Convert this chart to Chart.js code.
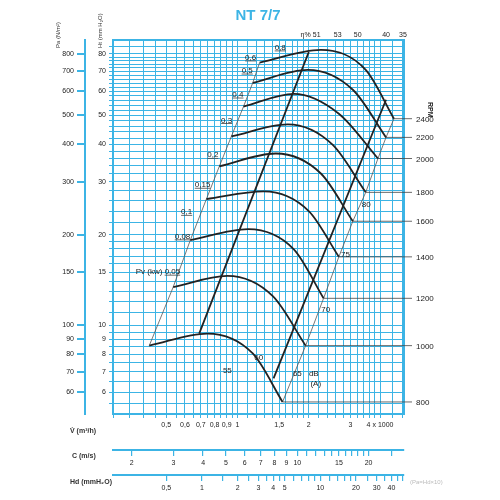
<!DOCTYPE html>
<html><head><meta charset="utf-8">
<script src="https://cdn.jsdelivr.net/npm/chart.js@4.4.0/dist/chart.umd.min.js"></script>
<style>html,body{margin:0;background:#fff}</style>
</head><body><canvas id="c" width="500" height="500"></canvas>
<script>
const BLUE='#3cb4e5';
const rpm=[800,1000,1200,1400,1600,1800,2000,2200,2400];
// curve points [V m3/s, H mmH2O]: start, peak, mid, end
const curves=[
 [[0.424,8.56],[0.745,9.39],[1.16,8.06],[1.55,5.56]],
 [[0.535,13.4],[0.906,14.6],[1.41,12.5],[1.94,8.56]],
 [[0.632,19.2],[1.11,20.9],[1.73,17.9],[2.31,12.3]],
 [[0.739,26.3],[1.29,27.9],[2.0,24.0],[2.68,16.9]],
 [[0.838,33.8],[1.45,37.3],[2.25,32.0],[3.07,22.2]],
 [[0.942,42.5],[1.63,46.6],[2.52,39.9],[3.48,27.7]],
 [[1.06,53.4],[1.73,58.9],[2.68,50.6],[3.92,35.9]],
 [[1.16,64.1],[1.98,70.8],[3.07,60.8],[4.24,42.2]],
 [[1.24,74.8],[2.25,82.5],[3.48,70.8],[4.58,48.7]]
];
const thickDiag=[[[0.689,9.39],[2.0,81.2]],[[1.42,6.66],[4.24,56.3]]];
const pvLabels=['0,05','0,08','0,1','0,15','0,2','0,3','0,4','0,5','0,6','0,8'];
const pvPos=[[0.573,14.8],[0.632,19.4],[0.644,23.4],[0.768,28.8],[0.83,36.2],[0.95,47.3],[1.06,57.5],[1.16,69.1],[1.2,76.4],[1.6,82.5]];
const etaLabels=['η%','51','53','50','40','35'];
const etaV=[1.94,2.16,2.65,3.22,4.24,5.0];
const dbLabels=['55','60','65','70','75','80','dB'];
const dbPos=[[0.906,6.92],[1.23,7.65],[1.79,6.76],[2.36,11.1],[2.86,16.9],[3.5,24.7],[2.1,6.76]];
const vTicks=[0.3,0.35,0.4,0.45,0.5,0.55,0.6,0.65,0.7,0.75,0.8,0.85,0.9,0.95,1,1.1,1.2,1.3,1.4,1.5,1.6,1.7,1.8,1.9,2,2.2,2.4,2.6,2.8,3,3.2,3.4,3.6,3.8,4,4.5,5];
const vLabels={0.5:'0,5',0.6:'0,6',0.7:'0,7',0.8:'0,8',0.9:'0,9',1:'1',1.5:'1,5',2:'2',3:'3',4:'4 x 1000'};
const hTicks=[5.5,6,6.5,7,7.5,8,8.5,9,9.5,10,11,12,13,14,15,16,17,18,19,20,22,24,26,28,30,32,34,36,38,40,42,44,46,48,50,52,54,56,58,60,62,64,66,68,70,72,74,76,78,80,85];
const hLabels=[6,7,8,9,10,15,20,30,40,50,60,70,80];
const paLabels=[60,70,80,90,100,150,200,300,400,500,600,700,800];
const cTicks=[2,3,4,5,6,7,8,9,10,11,12,13,14,15,16,17,18,19,20,25];
const cLabels=[2,3,4,5,6,7,8,9,10,15,20];
const hdTicks=[0.5,1,1.5,2,2.5,3,3.5,4,4.5,5,6,7,8,9,10,12,14,16,18,20,25,30,35,40,45,50];
const hdLabels={0.5:'0,5',1:'1',2:'2',3:'3',4:'4',5:'5',10:'10',20:'20',30:'30',40:'40'};
const VMIN=0.298,VMAX=5.05,HMIN=5.07,HMAX=89;

const ds=[];
const base={xAxisID:'x',yAxisID:'y',pointRadius:0,fill:false};
curves.forEach(c=>ds.push({...base,data:c.map(p=>({x:p[0],y:p[1]})),borderColor:'#222',borderWidth:1.8,cubicInterpolationMode:'monotone'}));
thickDiag.forEach(c=>ds.push({...base,data:c.map(p=>({x:p[0],y:p[1]})),borderColor:'#222',borderWidth:1.8}));
ds.push({...base,data:curves.map(c=>({x:c[0][0],y:c[0][1]})),borderColor:'#555',borderWidth:0.8});
ds.push({...base,data:curves.map(c=>({x:c[3][0],y:c[3][1]})),borderColor:'#555',borderWidth:0.8});

function fx(a){return v=>{const t=Math.round(v*100)/100;return a(t)}}
const txt={id:'txt',afterDraw(ch){
 const g=ch.ctx,x=ch.scales.x,y=ch.scales.y,a=ch.chartArea;
 g.save();
 g.fillStyle=BLUE;g.font='bold 15px "Liberation Sans"';g.textAlign='center';g.fillText('NT 7/7',258,20);
 g.strokeStyle='#444';g.lineWidth=0.8;g.fillStyle='#222';g.font='8px "Liberation Sans"';g.textAlign='left';
 curves.forEach((c,i)=>{const e=c[3];const px=x.getPixelForValue(e[0]),py=y.getPixelForValue(e[1]);
  g.beginPath();g.moveTo(px,py);g.lineTo(a.right+8,py);g.stroke();
  g.fillText(String(rpm[i]),a.right+12,py+3);});
 g.save();g.translate(a.right+24,102);g.rotate(Math.PI/2);g.font='bold 7px "Liberation Sans"';g.fillText('RPM',0,0);g.restore();
 g.font='8px "Liberation Sans"';g.textAlign='right';
 pvLabels.forEach((l,i)=>{const px=x.getPixelForValue(pvPos[i][0]),py=y.getPixelForValue(pvPos[i][1]);
  g.fillText(i==0?'Pv (kw) '+l:l,px,py);g.beginPath();g.moveTo(px-g.measureText(l).width,py+1);g.lineTo(px,py+1);g.stroke();});
 g.textAlign='center';g.font='7px "Liberation Sans"';
 etaLabels.forEach((l,i)=>g.fillText(l,x.getPixelForValue(etaV[i]),a.top-3));
 g.font='8px "Liberation Sans"';
 dbLabels.forEach((l,i)=>g.fillText(l,x.getPixelForValue(dbPos[i][0]),y.getPixelForValue(dbPos[i][1])));
 g.fillText('(A)',x.getPixelForValue(dbPos[6][0])+2,y.getPixelForValue(dbPos[6][1])+10);
 g.fillStyle='#333';g.font='bold 7px "Liberation Sans"';g.textAlign='left';
 g.fillText('V̇ (m³/h)',70,433);g.fillText('C (m/s)',72,458);g.fillText('Hd (mmH₂O)',70,484);
 g.fillStyle='#bbb';g.font='6px "Liberation Sans"';g.fillText('(Pa=Hd×10)',410,484);
 g.save();g.fillStyle='#333';g.font='6px "Liberation Sans"';
 g.translate(60,48);g.rotate(-Math.PI/2);g.fillText('Pa (N/m²)',0,0);g.restore();
 g.save();g.fillStyle='#333';g.font='6px "Liberation Sans"';
 g.translate(102,48);g.rotate(-Math.PI/2);g.fillText('Ht (mm H₂O)',0,0);g.restore();
 g.restore();
}};
new Chart(document.getElementById('c'),{type:'line',data:{datasets:ds},plugins:[txt],
options:{responsive:false,animation:false,devicePixelRatio:1,
 layout:{padding:{top:40,right:96,left:40,bottom:0}},
 plugins:{legend:{display:false},tooltip:{enabled:false}},
 scales:{
  x:{type:'logarithmic',min:VMIN,max:VMAX,position:'bottom',
   afterBuildTicks:s=>{s.ticks=vTicks.map(v=>({value:v}))},afterFit:s=>{s.height=36},
   grid:{color:BLUE,lineWidth:1,tickLength:4},border:{color:BLUE,width:2},
   ticks:{autoSkip:false,maxRotation:0,color:'#222',font:{size:7,family:'Liberation Sans'},callback:fx(t=>vLabels[t]||'')}},
  c:{type:'logarithmic',min:VMIN*5.59,max:VMAX*5.59,position:'bottom',
   afterBuildTicks:s=>{s.ticks=cTicks.map(v=>({value:v}))},afterFit:s=>{s.height=25},
   grid:{drawOnChartArea:false,color:BLUE,lineWidth:1.2,tickLength:6},border:{color:BLUE,width:2},
   ticks:{autoSkip:false,maxRotation:0,color:'#222',font:{size:7,family:'Liberation Sans'},callback:fx(t=>cLabels.includes(t)?String(t):'')}},
  hd:{type:'logarithmic',min:0.177,max:51,position:'bottom',
   afterBuildTicks:s=>{s.ticks=hdTicks.map(v=>({value:v}))},afterFit:s=>{s.height=25},
   grid:{drawOnChartArea:false,color:BLUE,lineWidth:1.2,tickLength:6},border:{color:BLUE,width:2},
   ticks:{autoSkip:false,maxRotation:0,color:'#222',font:{size:7,family:'Liberation Sans'},callback:fx(t=>hdLabels[t]||'')}},
  y:{type:'logarithmic',min:HMIN,max:HMAX,position:'left',
   afterBuildTicks:s=>{s.ticks=hTicks.map(v=>({value:v}))},afterFit:s=>{s.width=28},
   grid:{color:BLUE,lineWidth:1,tickLength:4},border:{color:BLUE,width:2},
   ticks:{autoSkip:false,color:'#222',font:{size:7,family:'Liberation Sans'},callback:fx(t=>hLabels.includes(t)?String(t):'')}},
  pa:{type:'logarithmic',min:HMIN*10,max:HMAX*10,position:'left',
   afterBuildTicks:s=>{s.ticks=paLabels.map(v=>({value:v}))},afterFit:s=>{s.width=45},
   grid:{drawOnChartArea:false,color:BLUE,lineWidth:2,tickLength:8},border:{color:BLUE,width:2},
   ticks:{autoSkip:false,color:'#222',font:{size:7,family:'Liberation Sans'},callback:v=>String(Math.round(v))}},
  r:{type:'logarithmic',min:HMIN,max:HMAX,position:'right',display:true,afterFit:s=>{s.width=0},
   grid:{display:false},border:{color:BLUE,width:2},ticks:{display:false}},
  t:{type:'linear',position:'top',display:true,afterFit:s=>{s.height=0},grid:{display:false},border:{color:BLUE,width:2},ticks:{display:false}}
 }}});
</script></body></html>
